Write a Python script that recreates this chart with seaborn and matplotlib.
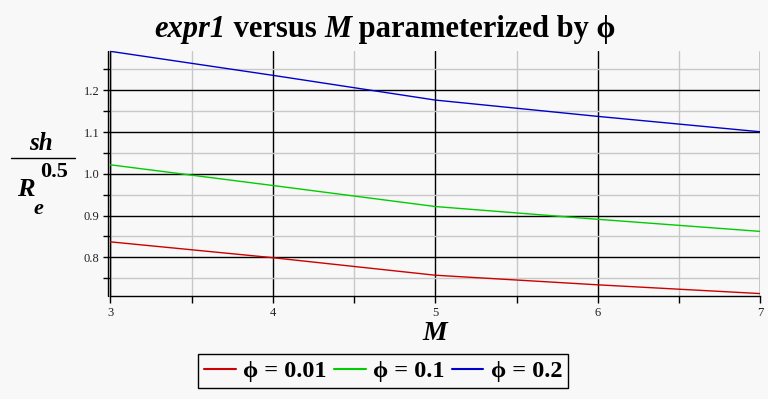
import matplotlib
matplotlib.use("Agg")
import matplotlib.pyplot as plt
import seaborn as sns
import pandas as pd
from matplotlib.ticker import MultipleLocator, FixedLocator
from matplotlib.lines import Line2D

# ---- data ----
M_values = [3, 4, 5, 6, 7]
phi_labels = ["ϕ = 0.01", "ϕ = 0.1", "ϕ = 0.2"]
expr_phi_001 = [0.837, 0.799, 0.757, 0.734, 0.713]
expr_phi_01 = [1.0216, 0.972, 0.9216, 0.891, 0.862]
expr_phi_02 = [1.2935, 1.236, 1.1767, 1.1376, 1.1007]
x_ticks = [3, 4, 5, 6, 7]
y_ticks = [0.8, 0.9, 1.0, 1.1, 1.2]
y_tick_labels = ["0.8", "0.9", "1.0", "1.1", "1.2"]

series = [expr_phi_001, expr_phi_01, expr_phi_02]
rows = []
for lab, vals in zip(phi_labels, series):
    for m, v in zip(M_values, vals):
        rows.append({"M": m, "expr1": v, "phi": lab})
df = pd.DataFrame(rows)

colors = ["#CC0000", "#00CC00", "#0000CC"]
bg = "#F8F8F8"
FAM = "Liberation Serif"

sns.set_theme(style="white")
plt.rcParams["font.family"] = FAM
plt.rcParams["text.color"] = "black"

fig = plt.figure(figsize=(7.68, 3.99), dpi=100, facecolor=bg)
ax = fig.add_axes([110.3 / 768, 1 - 296.3 / 399, (760.3 - 110.3) / 768, (296.3 - 50.7) / 399])
ax.set_facecolor(bg)

sns.lineplot(data=df, x="M", y="expr1", hue="phi", palette=colors,
             hue_order=phi_labels, ax=ax, linewidth=1.0, legend=False,
             zorder=5)

ax.set_xlim(3, 7)
ax.set_ylim(0.7065, 1.295)
ax.xaxis.set_major_locator(FixedLocator(x_ticks))
ax.xaxis.set_minor_locator(MultipleLocator(0.5))
ax.yaxis.set_major_locator(FixedLocator(y_ticks))
ax.yaxis.set_minor_locator(MultipleLocator(0.05))
ax.set_yticklabels(y_tick_labels)
ax.set_xticklabels([str(t) for t in x_ticks])

ax.grid(which="major", color="black", linewidth=1.0, zorder=1)
ax.grid(which="minor", color="#C8C8C8", linewidth=1.0, zorder=0)
ax.set_axisbelow(True)

for s in ["top", "right"]:
    ax.spines[s].set_visible(False)
for s in ["left", "bottom"]:
    ax.spines[s].set_color("black")
    ax.spines[s].set_linewidth(1.0)
# double left axis line
ax.plot([-0.003, -0.003], [0, 1], transform=ax.transAxes, color="black",
        linewidth=1.0, clip_on=False)

ax.tick_params(which="both", direction="out", length=5, width=1.0,
               color="black", labelsize=9, labelcolor="#222222", pad=3,
               left=True, bottom=True)
for lab in ax.get_xticklabels() + ax.get_yticklabels():
    lab.set_family(FAM)
ax.set_xlabel("")
ax.set_ylabel("")

# title
t_parts = [("expr1", "italic"), (" versus ", "normal"), ("M", "italic"),
           (" parameterized by ϕ", "normal")]
renderer = fig.canvas.get_renderer()
texts = []
for s, st in t_parts:
    t = fig.text(0, 1 - 37 / 399, s, fontsize=22, fontweight="bold",
                 fontstyle=st, family=FAM, va="baseline", ha="left",
                 color="black")
    texts.append(t)
widths = [t.get_window_extent(renderer=renderer).width for t in texts]
total = sum(widths)
cur = (385 - total / 2)
for t, w in zip(texts, widths):
    t.set_x(cur / 768)
    cur += w

# x label
fig.text(435 / 768, 1 - 333 / 399, "M", fontsize=20, fontweight="bold",
         fontstyle="italic", family=FAM, ha="center", va="center", color="black")

# y label fraction
fig.text(41 / 768, 1 - 144 / 399, "sh", fontsize=18, fontweight="bold",
         fontstyle="italic", family=FAM, ha="center", va="center", color="black")
fig.add_artist(Line2D([11 / 768, 75 / 768], [1 - 158.3 / 399, 1 - 158.3 / 399],
                      color="black", linewidth=1.0))
fig.text(54.5 / 768, 1 - 172 / 399, "0.5", fontsize=16, fontweight="bold",
         family=FAM, ha="center", va="center", color="black")
fig.text(25.5 / 768, 1 - 190 / 399, "R", fontsize=19, fontweight="bold",
         fontstyle="italic", family=FAM, ha="center", va="center", color="black")
fig.text(38 / 768, 1 - 209 / 399, "e", fontsize=16, fontweight="bold",
         fontstyle="italic", family=FAM, ha="center", va="center", color="black")

# legend
handles = [Line2D([], [], color=c, linewidth=1.5) for c in colors]
leg = fig.legend(handles, phi_labels, loc="center", ncol=3,
                 bbox_to_anchor=(383.3 / 768, 1 - 371 / 399),
                 frameon=True, fancybox=False, edgecolor="black",
                 facecolor=bg, framealpha=1.0,
                 prop={"size": 17.5, "weight": "bold", "family": FAM},
                 handlelength=1.3, handletextpad=0.3, columnspacing=0.3,
                 borderpad=0.25, borderaxespad=0)
leg.get_frame().set_linewidth(1.0)
for txt in leg.get_texts():
    txt.set_color("black")

fig.savefig("out.png", dpi=100, facecolor=bg)
